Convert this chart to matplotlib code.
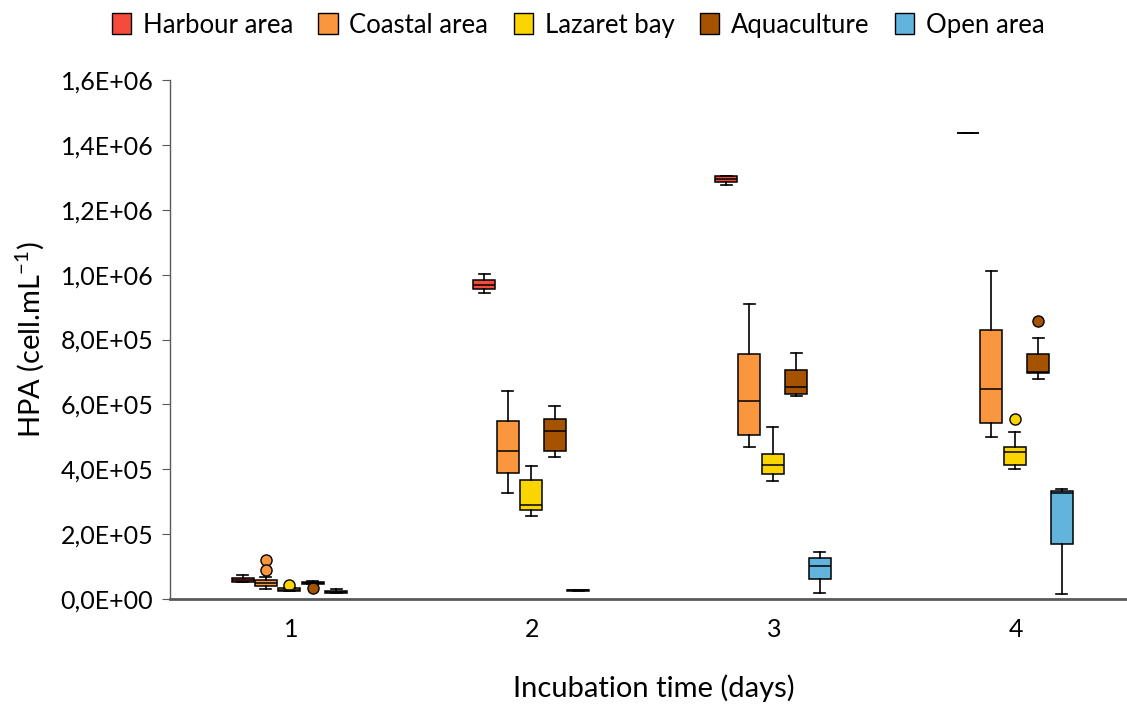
import matplotlib
matplotlib.use('Agg')
import matplotlib.pyplot as plt
from matplotlib.patches import Patch
from matplotlib.ticker import FuncFormatter

plt.rcParams['font.family'] = ['Lato', 'DejaVu Sans']
plt.rcParams['axes.unicode_minus'] = False

days = [1, 2, 3, 4]
sites = ['Harbour area', 'Coastal area', 'Lazaret bay', 'Aquaculture', 'Open area']
colors = ['#F44B3A', '#F9963E', '#FAD500', '#A65300', '#62B4DD']

# box statistics per site, one value per day (cell.mL-1)
whislo = {
    'Harbour area': [52000, 944000, 1276000, 1436000],
    'Coastal area': [32000, 327000, 470000, 498000],
    'Lazaret bay':  [26000, 256000, 365000, 400000],
    'Aquaculture':  [47000, 437000, 627000, 678000],
    'Open area':    [18000, 26000, 17600, 15000],
}
q1 = {
    'Harbour area': [52000, 956000, 1286000, 1436000],
    'Coastal area': [40000, 387000, 506000, 542000],
    'Lazaret bay':  [26000, 274000, 384000, 413000],
    'Aquaculture':  [47000, 456000, 632000, 698000],
    'Open area':    [19400, 26000, 61000, 170000],
}
med = {
    'Harbour area': [59000, 968000, 1295000, 1436000],
    'Coastal area': [50000, 457000, 609000, 647000],
    'Lazaret bay':  [29000, 291000, 412000, 453000],
    'Aquaculture':  [50000, 518000, 654000, 701000],
    'Open area':    [22500, 27500, 103000, 328000],
}
q3 = {
    'Harbour area': [64700, 983000, 1304000, 1436000],
    'Coastal area': [58600, 550000, 755000, 829000],
    'Lazaret bay':  [33000, 368000, 448000, 469000],
    'Aquaculture':  [53000, 555000, 705000, 754000],
    'Open area':    [25600, 29000, 125000, 333000],
}
whishi = {
    'Harbour area': [74000, 1002000, 1304000, 1436000],
    'Coastal area': [67800, 642000, 908000, 1011000],
    'Lazaret bay':  [33000, 411000, 530000, 514000],
    'Aquaculture':  [56000, 595000, 759000, 804000],
    'Open area':    [31000, 29000, 145000, 338000],
}
fliers = {
    'Harbour area': [[], [], [], []],
    'Coastal area': [[120000, 90000], [], [], []],
    'Lazaret bay':  [[43000], [], [], [555000]],
    'Aquaculture':  [[33000], [], [], [856000]],
    'Open area':    [[], [], [], []],
}

fig = plt.figure(figsize=(11.27, 7.07), dpi=100)
ax = fig.add_axes([170 / 1127, 1 - 599 / 707, 967 / 1127, 519 / 707])

step = 0.097
for k, (site, col) in enumerate(zip(sites, colors)):
    stats = []
    for i in range(len(days)):
        stats.append({'whislo': whislo[site][i], 'q1': q1[site][i], 'med': med[site][i],
                      'q3': q3[site][i], 'whishi': whishi[site][i], 'fliers': fliers[site][i]})
    pos = [d + (k - 2) * step - 0.006 for d in days]
    ax.bxp(stats, positions=pos, widths=0.091, patch_artist=True, manage_ticks=False,
           boxprops=dict(facecolor=col, edgecolor='black', linewidth=1.1),
           medianprops=dict(color='black', linewidth=1.1),
           whiskerprops=dict(color='black', linewidth=1.2),
           capprops=dict(color='black', linewidth=1.2),
           flierprops=dict(marker='o', markerfacecolor=col, markeredgecolor='black',
                           markersize=8, markeredgewidth=1))

ax.set_xlim(0.5, 4.5)
ax.set_ylim(0, 1.6e6)
ax.set_xticks(days)
ax.set_xticklabels([str(d) for d in days])
ax.set_yticks([i * 2e5 for i in range(9)])
ax.yaxis.set_major_formatter(FuncFormatter(lambda v, p: f'{v:.1E}'.replace('.', ',')))
ax.tick_params(axis='x', length=0, labelsize=18, pad=14)
ax.tick_params(axis='y', length=6, color='#595959', labelsize=18, pad=6)
for s in ['top', 'right']:
    ax.spines[s].set_visible(False)
for s in ['left', 'bottom']:
    ax.spines[s].set_color('#595959')
ax.spines['left'].set_linewidth(1.0)
ax.spines['bottom'].set_linewidth(2.0)

ax.set_xlabel('Incubation time (days)', fontsize=21, labelpad=24)
ax.set_ylabel('HPA (cell.mL$^{\\mathregular{-1}}$)', fontsize=21, labelpad=10)

handles = [Patch(facecolor=c, edgecolor='black', linewidth=1) for c in colors]
fig.legend(handles, sites, loc='upper center', bbox_to_anchor=(0.513, 1.015), ncol=5,
           frameon=False, fontsize=18.5, handlelength=0.75, handleheight=0.9,
           handletextpad=0.45, columnspacing=1.0)

fig.savefig('out.png', dpi=100)
